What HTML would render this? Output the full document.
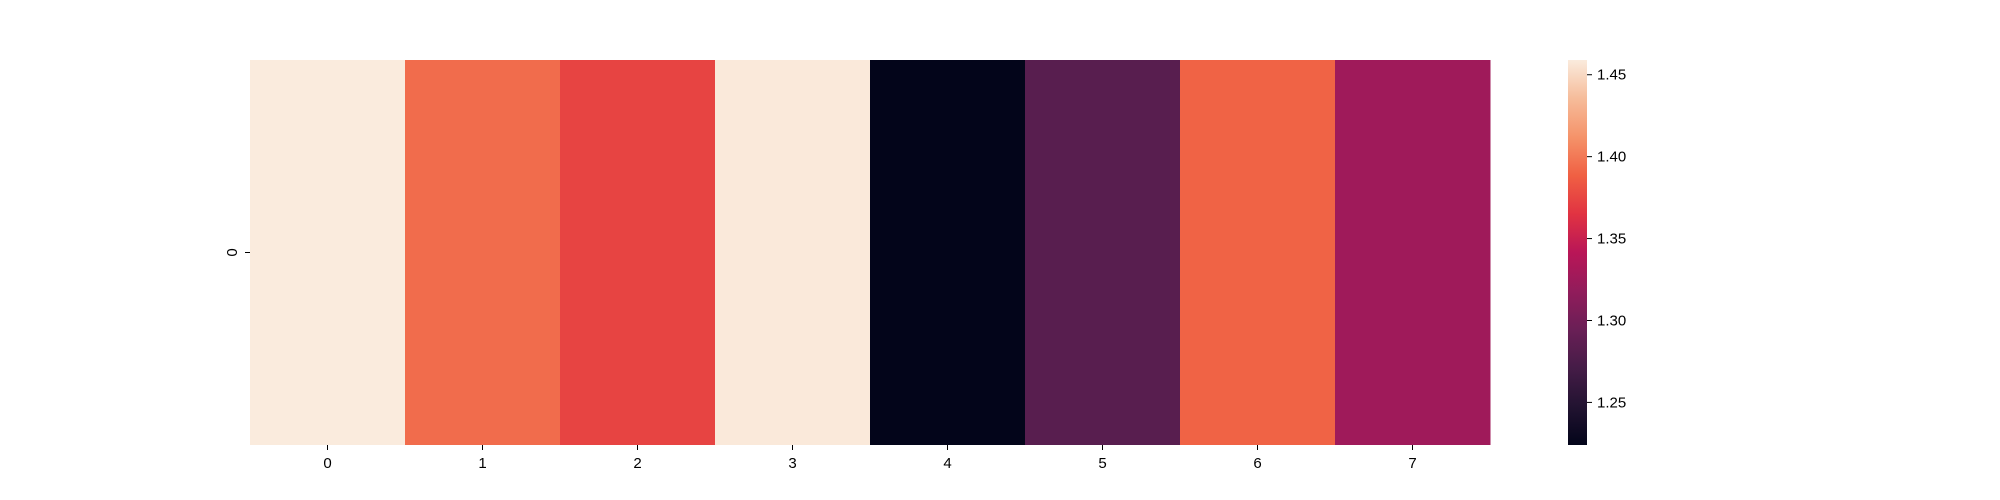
<!DOCTYPE html>
<html><head><meta charset="utf-8"><style>
html,body{margin:0;padding:0;background:#fff;}
svg{display:block;font-family:"Liberation Sans","DejaVu Sans",sans-serif;}
</style></head><body>
<svg id="chart" width="2000" height="500"></svg>
<script>
const categories = ["0","1","2","3","4","5","6","7"];
const rowLabels = ["0"];
const values = [1.459, 1.394, 1.374, 1.458, 1.224, 1.283, 1.390, 1.326];
const cbTicks = [1.25, 1.30, 1.35, 1.40, 1.45];
const cbTickLabels = ["1.25","1.30","1.35","1.40","1.45"];

const NS = "http://www.w3.org/2000/svg";
const svg = document.getElementById("chart");
const L = 250, R = 1490, T = 60, B = 445;
const vmin = Math.min(...values), vmax = Math.max(...values);
const rocket = [[3,5,26],[34,19,49],[69,28,71],[106,31,86],[146,28,91],[185,22,87],[225,51,66],[240,96,67],[245,147,106],[246,188,154],[250,235,221]];
function cmap(t){
  t=Math.max(0,Math.min(1,t));
  const p=t*(rocket.length-1), i=Math.min(Math.floor(p),rocket.length-2), f=p-i;
  const a=rocket[i], b=rocket[i+1];
  return "rgb("+a.map((v,k)=>Math.round(v+(b[k]-v)*f)).join(",")+")";
}
const xScale = i => L + (R-L)/categories.length*i;
const cw = (R-L)/categories.length;
function mk(tag, attrs){const e=document.createElementNS(NS,tag);for(const k in attrs)e.setAttribute(k,attrs[k]);svg.appendChild(e);return e;}

values.forEach((v,i)=>{
  const r = mk("rect",{x:xScale(i),y:T,width:cw+0.5,height:B-T,fill:cmap((v-vmin)/(vmax-vmin))});
  
  
});
categories.forEach((c,i)=>{
  const cx = xScale(i)+cw/2;
  const t = mk("line",{x1:cx,x2:cx,y1:B,y2:B+5,stroke:"#000","stroke-width":1});
  
  
  const tx = mk("text",{x:cx,y:B+23,"text-anchor":"middle","font-size":15,fill:"#000"});
  tx.textContent=c;
  
  
});
rowLabels.forEach((r,i)=>{
  const cy = T+(B-T)/rowLabels.length*(i+0.5);
  const t = mk("line",{x1:L-5,x2:L,y1:cy,y2:cy,stroke:"#000","stroke-width":1});
  
  
  const tx = mk("text",{x:0,y:0,"text-anchor":"middle","font-size":15,fill:"#000",transform:"translate("+(L-13)+","+cy+") rotate(-90)"});
  tx.textContent=r;
  
  
});
const CL=1568, CR=1587;
const defs = mk("defs",{});
const g = document.createElementNS(NS,"linearGradient");
g.setAttribute("id","rk");g.setAttribute("x1","0");g.setAttribute("y1","1");g.setAttribute("x2","0");g.setAttribute("y2","0");
defs.appendChild(g);
rocket.forEach((c,i)=>{const s=document.createElementNS(NS,"stop");s.setAttribute("offset",i/(rocket.length-1));s.setAttribute("stop-color","rgb("+c.join(",")+")");g.appendChild(s);});
const cb = mk("rect",{x:CL,y:T,width:CR-CL,height:B-T,fill:"url(#rk)"});


const yScale = v => B - (v-vmin)/(vmax-vmin)*(B-T);
cbTicks.forEach((v,i)=>{
  const y=yScale(v);
  const t = mk("line",{x1:CR,x2:CR+5,y1:y,y2:y,stroke:"#000","stroke-width":1});
  
  
  const tx = mk("text",{x:CR+10,y:y+5,"font-size":15,fill:"#000"});
  tx.textContent=cbTickLabels[i];
  
  
});
</script>
</body></html>
